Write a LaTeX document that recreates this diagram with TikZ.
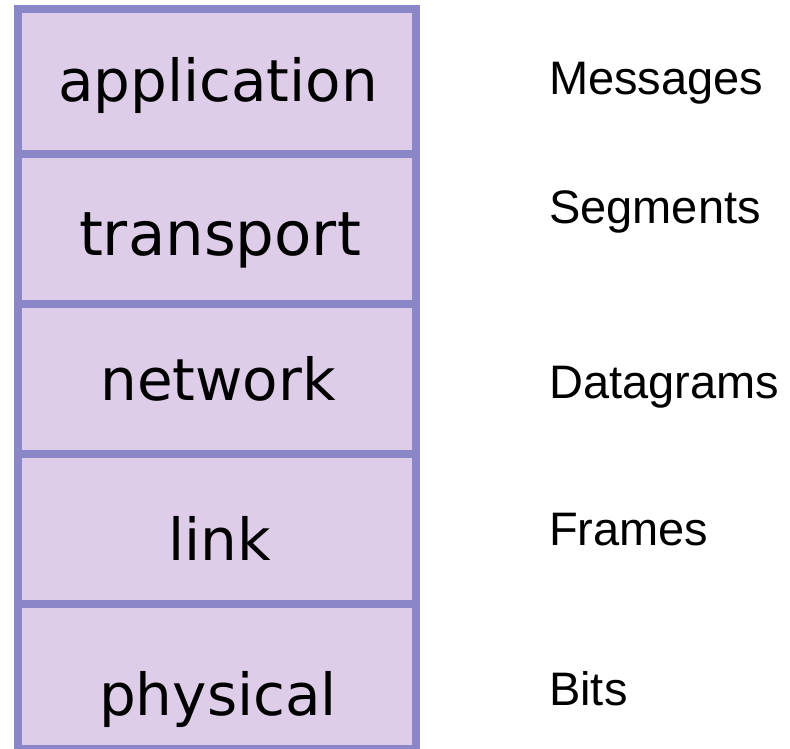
\documentclass[tikz,border=0pt]{standalone}
\usepackage{fontspec}
\setmainfont{Liberation Sans}
\newfontfamily\layerfont{DejaVu Sans}
\definecolor{layerfill}{RGB}{221,205,232}
\definecolor{layerdraw}{RGB}{138,134,200}
\begin{document}
\begin{tikzpicture}[x=1pt,y=-1pt,
  layerbox/.style={draw=layerdraw,fill=layerfill,line width=8pt},
  layertext/.style={anchor=base,inner sep=0pt,font=\layerfont\fontsize{58}{70}\selectfont},
  unitlabel/.style={anchor=base west,inner sep=0pt,font=\fontsize{47}{56}\selectfont}]
\useasboundingbox (0,0) rectangle (790,749);
\begin{scope}
\clip (0,0) rectangle (790,749);
\draw[layerbox] (18,9) rectangle (416,154);
\draw[layerbox] (18,154) rectangle (416,304);
\draw[layerbox] (18,304) rectangle (416,454);
\draw[layerbox] (18,454) rectangle (416,604);
\draw[layerbox] (18,604) rectangle (416,749);
\end{scope}
\node[layertext] (app) at (218,102) {application};
\node[layertext] (trn) at (220,255) {\fontsize{61}{70}\selectfont transport};
\node[layertext] (net) at (218,400) {network};
\node[layertext] (lnk) at (220,560) {link};
\node[layertext] (phy) at (218,715) {physical};
\node[unitlabel] (msg) at (549,95) {Messages};
\node[unitlabel] (seg) at (549,223) {Segments};
\node[unitlabel] (dgm) at (549,398) {Datagrams};
\node[unitlabel] (frm) at (549,545) {Frames};
\node[unitlabel] (bit) at (549,705) {Bits};
\end{tikzpicture}
\end{document}
